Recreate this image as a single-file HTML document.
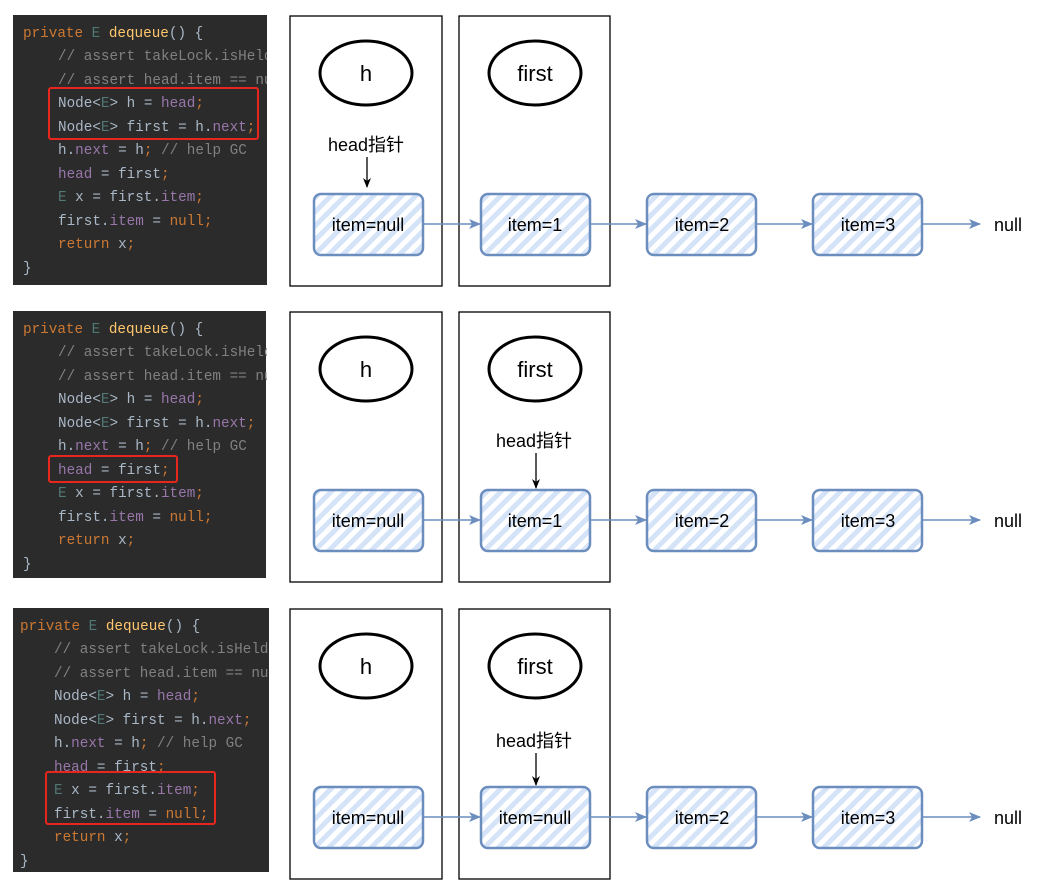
<!DOCTYPE html>
<html><head><meta charset="utf-8"><style>
html,body{margin:0;padding:0;background:#fff;}
svg{display:block;}
.c{font-family:"Liberation Mono",monospace;font-size:14.3px;}
.k{fill:#cc7832}.t{fill:#507874}.f{fill:#ffc66d}.m{fill:#808080}.p{fill:#9876aa}.n{fill:#a9b7c6}
.lbl{font-family:"Liberation Sans","Noto Sans CJK SC",sans-serif;font-size:18px;fill:#000;}
.big{font-family:"Liberation Sans",sans-serif;font-size:22px;fill:#000;}
</style></head><body>
<svg width="1039" height="891" viewBox="0 0 1039 891" xmlns="http://www.w3.org/2000/svg">
<defs>
<pattern id="hatch" patternUnits="userSpaceOnUse" width="10" height="10" patternTransform="rotate(45)">
<rect width="10" height="10" fill="#fff"/><rect width="5" height="10" fill="#d4e3f8"/>
</pattern>
<marker id="ab" markerWidth="12" markerHeight="12" refX="11" refY="6" orient="auto" markerUnits="userSpaceOnUse"><path d="M0,1 L12,6 L0,11 L3,6z" fill="#6c8ebf"/></marker>
<marker id="ak" markerWidth="10" markerHeight="10" refX="9" refY="5" orient="auto" markerUnits="userSpaceOnUse"><path d="M0,1 L10,5 L0,9 L3,5z" fill="#000"/></marker>
<g id="diag">
<rect x="290" y="16" width="152" height="270" fill="#fff" stroke="#000" stroke-width="1.3"/>
<rect x="459" y="16" width="151" height="270" fill="#fff" stroke="#000" stroke-width="1.3"/>
<ellipse cx="366" cy="73" rx="46" ry="32" fill="#fff" stroke="#000" stroke-width="3"/>
<ellipse cx="535" cy="73" rx="46" ry="32" fill="#fff" stroke="#000" stroke-width="3"/>
<text class="big" x="366" y="81" text-anchor="middle">h</text>
<text class="big" x="535" y="81" text-anchor="middle">first</text>
<line x1="423" y1="224" x2="480" y2="224" stroke="#6c8ebf" stroke-width="1.5" marker-end="url(#ab)"/>
<line x1="591" y1="224" x2="646" y2="224" stroke="#6c8ebf" stroke-width="1.5" marker-end="url(#ab)"/>
<line x1="757" y1="224" x2="812" y2="224" stroke="#6c8ebf" stroke-width="1.5" marker-end="url(#ab)"/>
<line x1="923" y1="224" x2="980" y2="224" stroke="#6c8ebf" stroke-width="1.5" marker-end="url(#ab)"/>
<rect x="314" y="194" width="109" height="61" rx="7" fill="url(#hatch)" stroke="#6c8ebf" stroke-width="2.5"/>
<rect x="481" y="194" width="109" height="61" rx="7" fill="url(#hatch)" stroke="#6c8ebf" stroke-width="2.5"/>
<rect x="647" y="194" width="109" height="61" rx="7" fill="url(#hatch)" stroke="#6c8ebf" stroke-width="2.5"/>
<rect x="813" y="194" width="109" height="61" rx="7" fill="url(#hatch)" stroke="#6c8ebf" stroke-width="2.5"/>
<text class="lbl" x="702" y="231" text-anchor="middle">item=2</text>
<text class="lbl" x="868" y="231" text-anchor="middle">item=3</text>
<text class="lbl" x="1008" y="231" text-anchor="middle">null</text>
<text class="lbl" x="368" y="231" text-anchor="middle">item=null</text>
</g>
</defs>

<!-- code panels -->
<g class="c">
<rect x="13" y="15" width="254" height="270" fill="#2b2b2b"/>
<text x="23" y="37"><tspan class="k">private </tspan><tspan class="t">E </tspan><tspan class="f">dequeue</tspan><tspan class="n">() {</tspan></text>
<text x="58" y="60" class="m">// assert takeLock.isHeld</text>
<text x="58" y="84" class="m">// assert head.item == nu</text>
<text x="58" y="107"><tspan class="n">Node&lt;</tspan><tspan class="t">E</tspan><tspan class="n">&gt; h = </tspan><tspan class="p">head</tspan><tspan class="k">;</tspan></text>
<text x="58" y="131"><tspan class="n">Node&lt;</tspan><tspan class="t">E</tspan><tspan class="n">&gt; first = h.</tspan><tspan class="p">next</tspan><tspan class="k">;</tspan></text>
<text x="58" y="154"><tspan class="n">h.</tspan><tspan class="p">next</tspan><tspan class="n"> = h</tspan><tspan class="k">; </tspan><tspan class="m">// help GC</tspan></text>
<text x="58" y="178"><tspan class="p">head</tspan><tspan class="n"> = first</tspan><tspan class="k">;</tspan></text>
<text x="58" y="201"><tspan class="t">E </tspan><tspan class="n">x = first.</tspan><tspan class="p">item</tspan><tspan class="k">;</tspan></text>
<text x="58" y="225"><tspan class="n">first.</tspan><tspan class="p">item</tspan><tspan class="n"> = </tspan><tspan class="k">null;</tspan></text>
<text x="58" y="248"><tspan class="k">return </tspan><tspan class="n">x</tspan><tspan class="k">;</tspan></text>
<text x="23" y="272" class="n">}</text>
<rect x="49" y="88" width="209" height="51" rx="2" fill="none" stroke="#e8261e" stroke-width="2"/>

<rect x="13" y="311" width="253" height="267" fill="#2b2b2b"/>
<text x="23" y="333"><tspan class="k">private </tspan><tspan class="t">E </tspan><tspan class="f">dequeue</tspan><tspan class="n">() {</tspan></text>
<text x="58" y="356" class="m">// assert takeLock.isHeld</text>
<text x="58" y="380" class="m">// assert head.item == nu</text>
<text x="58" y="403"><tspan class="n">Node&lt;</tspan><tspan class="t">E</tspan><tspan class="n">&gt; h = </tspan><tspan class="p">head</tspan><tspan class="k">;</tspan></text>
<text x="58" y="427"><tspan class="n">Node&lt;</tspan><tspan class="t">E</tspan><tspan class="n">&gt; first = h.</tspan><tspan class="p">next</tspan><tspan class="k">;</tspan></text>
<text x="58" y="450"><tspan class="n">h.</tspan><tspan class="p">next</tspan><tspan class="n"> = h</tspan><tspan class="k">; </tspan><tspan class="m">// help GC</tspan></text>
<text x="58" y="474"><tspan class="p">head</tspan><tspan class="n"> = first</tspan><tspan class="k">;</tspan></text>
<text x="58" y="497"><tspan class="t">E </tspan><tspan class="n">x = first.</tspan><tspan class="p">item</tspan><tspan class="k">;</tspan></text>
<text x="58" y="521"><tspan class="n">first.</tspan><tspan class="p">item</tspan><tspan class="n"> = </tspan><tspan class="k">null;</tspan></text>
<text x="58" y="544"><tspan class="k">return </tspan><tspan class="n">x</tspan><tspan class="k">;</tspan></text>
<text x="23" y="568" class="n">}</text>
<rect x="49" y="456" width="128" height="26" rx="2" fill="none" stroke="#e8261e" stroke-width="2"/>

<rect x="13" y="608" width="256" height="264" fill="#2b2b2b"/>
<text x="20" y="630"><tspan class="k">private </tspan><tspan class="t">E </tspan><tspan class="f">dequeue</tspan><tspan class="n">() {</tspan></text>
<text x="54" y="653" class="m">// assert takeLock.isHeldB</text>
<text x="54" y="677" class="m">// assert head.item == nul</text>
<text x="54" y="700"><tspan class="n">Node&lt;</tspan><tspan class="t">E</tspan><tspan class="n">&gt; h = </tspan><tspan class="p">head</tspan><tspan class="k">;</tspan></text>
<text x="54" y="724"><tspan class="n">Node&lt;</tspan><tspan class="t">E</tspan><tspan class="n">&gt; first = h.</tspan><tspan class="p">next</tspan><tspan class="k">;</tspan></text>
<text x="54" y="747"><tspan class="n">h.</tspan><tspan class="p">next</tspan><tspan class="n"> = h</tspan><tspan class="k">; </tspan><tspan class="m">// help GC</tspan></text>
<text x="54" y="771"><tspan class="p">head</tspan><tspan class="n"> = first</tspan><tspan class="k">;</tspan></text>
<text x="54" y="794"><tspan class="t">E </tspan><tspan class="n">x = first.</tspan><tspan class="p">item</tspan><tspan class="k">;</tspan></text>
<text x="54" y="818"><tspan class="n">first.</tspan><tspan class="p">item</tspan><tspan class="n"> = </tspan><tspan class="k">null;</tspan></text>
<text x="54" y="841"><tspan class="k">return </tspan><tspan class="n">x</tspan><tspan class="k">;</tspan></text>
<text x="20" y="865" class="n">}</text>
<rect x="46" y="772" width="169" height="52" rx="2" fill="none" stroke="#e8261e" stroke-width="2"/>
</g>
<rect x="267" y="0" width="22" height="600" fill="#fff"/>
<rect x="269" y="600" width="20" height="291" fill="#fff"/>

<!-- row 1 -->
<use href="#diag"/>
<text class="lbl" x="535" y="231" text-anchor="middle">item=1</text>
<text class="lbl" x="366" y="151" text-anchor="middle">head指针</text>
<line x1="367" y1="157" x2="367" y2="187" stroke="#000" stroke-width="1.3" marker-end="url(#ak)"/>

<!-- row 2 -->
<g transform="translate(0,296)"><use href="#diag"/>
<text class="lbl" x="535" y="231" text-anchor="middle">item=1</text>
<text class="lbl" x="534" y="151" text-anchor="middle">head指针</text>
<line x1="536" y1="157" x2="536" y2="192" stroke="#000" stroke-width="1.3" marker-end="url(#ak)"/>
</g>

<!-- row 3 -->
<g transform="translate(0,593)"><use href="#diag"/>
<text class="lbl" x="535" y="231" text-anchor="middle">item=null</text>
<text class="lbl" x="534" y="154" text-anchor="middle">head指针</text>
<line x1="536" y1="160" x2="536" y2="192" stroke="#000" stroke-width="1.3" marker-end="url(#ak)"/>
</g>
</svg>
</body></html>
